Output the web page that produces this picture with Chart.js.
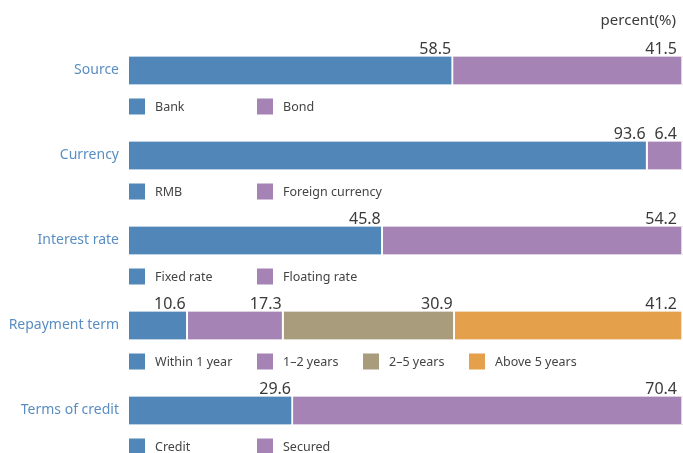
<!DOCTYPE html>
<html>
<head>
<meta charset="utf-8">
<script src="https://cdn.jsdelivr.net/npm/chart.js@4/dist/chart.umd.min.js"></script>
<style>
html,body{margin:0;padding:0;background:#fff;}
#wrap{width:683px;height:453px;position:relative;}
</style>
</head>
<body>
<div id="wrap"><canvas id="c"></canvas></div>
<script>
const categories = ['Source', 'Currency', 'Interest rate', 'Repayment term', 'Terms of credit'];
const segment1 = [58.5, 93.6, 45.8, 10.6, 29.6];
const segment2 = [41.5, 6.4, 54.2, 17.3, 70.4];
const segment3 = [0, 0, 0, 30.9, 0];
const segment4 = [0, 0, 0, 41.2, 0];
const legendLabels = [
  ['Bank', 'Bond'],
  ['RMB', 'Foreign currency'],
  ['Fixed rate', 'Floating rate'],
  ['Within 1 year', '1\u20132 years', '2\u20135 years', 'Above 5 years'],
  ['Credit', 'Secured']
];
const unitLabel = 'percent(%)';

const colors = ['#5187b8', '#a584b5', '#a99c7d', '#e4a04b'];
const FONT = "'Noto Sans', 'Open Sans', sans-serif";

const overlay = {
  id: 'overlay',
  afterDatasetsDraw(chart) {
    const ctx = chart.ctx;
    const area = chart.chartArea;
    ctx.save();
    ctx.font = '16px ' + FONT;
    ctx.fillStyle = '#3a3a3a';
    ctx.textAlign = 'right';
    ctx.textBaseline = 'alphabetic';
    chart.data.datasets.forEach((ds, di) => {
      const meta = chart.getDatasetMeta(di);
      meta.data.forEach((el, i) => {
        const v = ds.data[i];
        if (!v) return;
        const top = el.y - el.height / 2;
        ctx.fillText(v.toFixed(1), Math.min(el.x - 2, area.right - 6), top - 3);
      });
    });
    const slots = [0, 128, 234, 340];
    ctx.font = '12.5px ' + FONT;
    ctx.textAlign = 'left';
    ctx.textBaseline = 'middle';
    const yScale = chart.scales.y;
    legendLabels.forEach((labels, i) => {
      const cy = yScale.getPixelForValue(i);
      const sqTop = cy + 28;
      labels.forEach((lab, j) => {
        const x = area.left + slots[j];
        ctx.fillStyle = colors[j];
        ctx.fillRect(x, sqTop, 16, 16);
        ctx.fillStyle = '#444';
        ctx.fillText(lab, x + 26, sqTop + 9);
      });
    });
    ctx.font = '15px ' + FONT;
    ctx.fillStyle = '#3a3a3a';
    ctx.textAlign = 'right';
    ctx.textBaseline = 'alphabetic';
    ctx.fillText(unitLabel, 676, 25);
    ctx.restore();
  }
};

const mk = (label, data, idx) => ({
  label, data,
  backgroundColor: colors[idx],
  borderColor: '#ffffff',
  borderWidth: {left: 0, right: 2, top: 0, bottom: 0},
  borderSkipped: false,
  barThickness: 28
});

new Chart(document.getElementById('c'), {
  type: 'bar',
  data: {
    labels: categories,
    datasets: [
      mk('s1', segment1, 0),
      mk('s2', segment2, 1),
      mk('s3', segment3, 2),
      mk('s4', segment4, 3)
    ]
  },
  options: {
    indexAxis: 'y',
    responsive: true,
    maintainAspectRatio: false,
    animation: false,
    layout: {padding: {top: 28, bottom: 0, left: 0, right: 0}},
    plugins: {legend: {display: false}, tooltip: {enabled: false}},
    scales: {
      x: {stacked: true, min: 0, max: 100, display: false},
      y: {
        stacked: true,
        offset: true,
        grid: {display: false, drawTicks: false},
        border: {display: false},
        ticks: {color: '#5a8ec3', font: {size: 14, family: FONT}, padding: 10},
        afterFit(scale) { scale.width = 129; scale.paddingTop = 0; scale.paddingBottom = 0; }
      }
    }
  },
  plugins: [overlay]
});
</script>
</body>
</html>
